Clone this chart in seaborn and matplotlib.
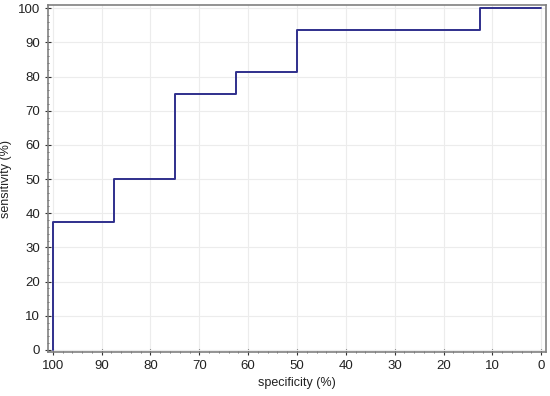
import matplotlib
matplotlib.use("Agg")
import matplotlib.pyplot as plt
import seaborn as sns
import pandas as pd
from matplotlib.ticker import MultipleLocator

# ROC step curve vertices
specificity = [100, 100, 87.5, 87.5, 75, 75, 62.5, 62.5, 50, 50, 12.5, 12.5, 0]
sensitivity = [0, 37.5, 37.5, 50, 50, 75, 75, 81.25, 81.25, 93.75, 93.75, 100, 100]

df = pd.DataFrame({"specificity": specificity, "sensitivity": sensitivity})

sns.set_style("white")
plt.rcParams["font.family"] = ["Liberation Sans", "DejaVu Sans"]

fig = plt.figure(figsize=(5.5, 3.96), dpi=100)
ax = fig.add_axes([0.087, 0.111, 0.906, 0.876])

sns.lineplot(data=df, x="specificity", y="sensitivity", sort=False,
             estimator=None, errorbar=None,
             color="#2f2f8c", linewidth=1.4, ax=ax)

ax.set_xlim(101, -1)
ax.set_ylim(-0.6, 100.9)
ax.xaxis.set_major_locator(MultipleLocator(10))
ax.yaxis.set_major_locator(MultipleLocator(10))
ax.xaxis.set_minor_locator(MultipleLocator(2))
ax.yaxis.set_minor_locator(MultipleLocator(2))
ax.grid(True, which="major", color="#ececec", linewidth=0.8)
ax.tick_params(which="major", direction="inout", length=4, width=0.8,
               colors="#333333", labelsize=9.5, labelcolor="#222222")
ax.tick_params(which="minor", direction="inout", length=2, width=0.6, colors="#555555")
ax.tick_params(axis="x", which="both", bottom=True)
ax.tick_params(axis="y", which="both", left=True)
for s in ax.spines.values():
    s.set_color("#808080")
    s.set_linewidth(1.2)

ax.set_xlabel("specificity (%)", fontsize=9, color="#222222")
ax.set_ylabel("sensitivity (%)", fontsize=9, color="#222222")

fig.savefig("out.png", dpi=100)
